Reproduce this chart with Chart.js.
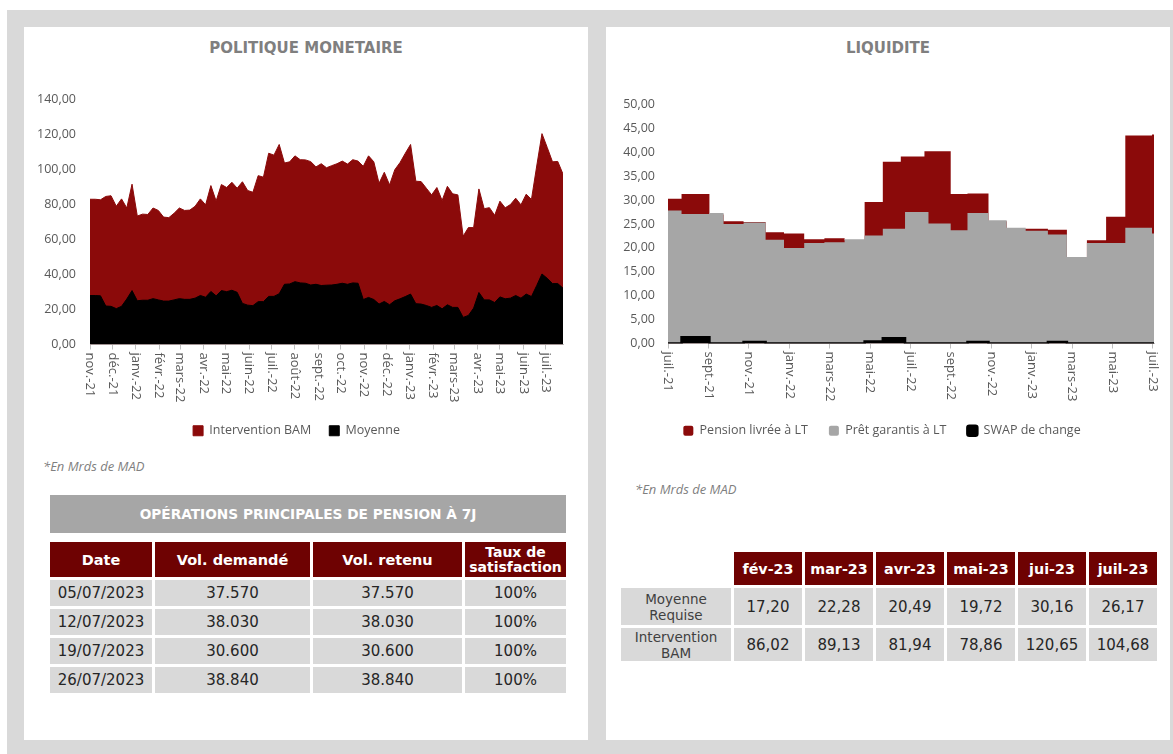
<!DOCTYPE html>
<html lang="fr">
<head>
<meta charset="utf-8">
<title>Politique monétaire - Liquidité</title>
<script src="https://cdn.jsdelivr.net/npm/chart.js@4/dist/chart.umd.min.js"></script>
<style>
  html, body { margin: 0; padding: 0; }
  body { width: 1173px; height: 754px; position: relative; overflow: hidden; background: #fff; font-family: "DejaVu Sans", sans-serif; }
  .fond { position: absolute; left: 7px; top: 10px; right: 0; bottom: 0; background: #d9d9d9; }
  .panneau { position: absolute; top: 27px; height: 713px; width: 564px; background: #fff; }
  .titre { position: absolute; top: 39px; width: 564px; text-align: center; font-weight: bold; font-size: 15px; color: #7f7f7f; }
  .note { position: absolute; font-style: italic; font-size: 13px; color: #7f7f7f; font-family: "Open Sans", sans-serif; }
  canvas { position: absolute; }
  .bandeau { position: absolute; left: 50px; top: 495px; width: 516px; height: 38px; line-height: 38px; background: #a6a6a6; color: #fff; font-weight: bold; font-size: 13.7px; text-align: center; }
  table { position: absolute; border-collapse: separate; border-spacing: 3px; }
  th, td { padding: 0; text-align: center; }
  th { background: #6e0202; color: #fff; font-weight: bold; }
  td { background: #d9d9d9; color: #262626; }
  #t1 { left: 47px; top: 539px; }
  #t1 th { height: 35px; font-size: 14.5px; }
  #t1 th.deux { font-size: 14px; line-height: 15px; }
  #t1 td { height: 26px; font-size: 15px; }
  #t2 { left: 618px; top: 549px; }
  #t2 th { height: 33px; width: 68px; font-size: 14.3px; }
  #t2 td { font-size: 15px; }
  #t2 td.lab { width: 110px; font-size: 13.5px; line-height: 16px; color: #404040; }
  #t2 td.vide { background: transparent; }
</style>
</head>
<body>
<div class="fond"></div>
<div class="panneau" style="left:24px"></div>
<div class="panneau" style="left:606px"></div>
<div class="titre" style="left:24px">POLITIQUE MONETAIRE</div>
<div class="titre" style="left:606px">LIQUIDITE</div>

<canvas id="cPM" width="550" height="369" style="left:30px;top:78px"></canvas>
<canvas id="cLIQ" width="560" height="363" style="left:610px;top:84px"></canvas>

<div class="note" style="left:43px;top:457px">*En Mrds de MAD</div>
<div class="note" style="left:635px;top:480px">*En Mrds de MAD</div>

<div class="bandeau">OPÉRATIONS PRINCIPALES DE PENSION À 7J</div>
<table id="t1">
  <tr><th style="width:102px">Date</th><th style="width:155px">Vol. demandé</th><th style="width:149px">Vol. retenu</th><th class="deux" style="width:101px">Taux de<br>satisfaction</th></tr>
  <tr><td>05/07/2023</td><td>37.570</td><td>37.570</td><td>100%</td></tr>
  <tr><td>12/07/2023</td><td>38.030</td><td>38.030</td><td>100%</td></tr>
  <tr><td>19/07/2023</td><td>30.600</td><td>30.600</td><td>100%</td></tr>
  <tr><td>26/07/2023</td><td>38.840</td><td>38.840</td><td>100%</td></tr>
</table>

<table id="t2">
  <tr><td class="vide"></td><th>fév-23</th><th>mar-23</th><th>avr-23</th><th>mai-23</th><th>jui-23</th><th>juil-23</th></tr>
  <tr style="height:37px"><td class="lab">Moyenne<br>Requise</td><td>17,20</td><td>22,28</td><td>20,49</td><td>19,72</td><td>30,16</td><td>26,17</td></tr>
  <tr style="height:33px"><td class="lab">Intervention<br>BAM</td><td>86,02</td><td>89,13</td><td>81,94</td><td>78,86</td><td>120,65</td><td>104,68</td></tr>
</table>

<script>
// --- Politique monétaire : une valeur par semaine, à partir du 01/11/2021
const interventionBAM = [
  83.0, 83.0, 82.7, 84.6, 85.0, 79.0, 83.2, 78.0, 91.6, 73.4,
  74.5, 74.3, 78.0, 76.6, 72.8, 72.5, 75.0, 78.0, 76.6, 76.8,
  79.0, 83.2, 79.8, 90.8, 82.0, 91.4, 89.7, 92.7, 89.3, 93.0,
  88.0, 87.0, 96.5, 95.6, 109.3, 108.2, 114.3, 103.7, 104.4, 107.8,
  105.6, 105.5, 104.5, 101.5, 103.3, 101.0, 102.2, 103.3, 104.8, 103.1,
  105.6, 104.8, 101.8, 107.8, 104.4, 92.1, 98.4, 91.2, 99.9, 104.0,
  109.3, 114.3, 93.3, 93.1, 89.3, 85.5, 89.7, 82.3, 90.4, 86.1,
  85.5, 61.9, 66.8, 66.8, 88.9, 77.6, 78.2, 73.8, 81.9, 78.1,
  80.0, 83.6, 79.8, 85.9, 82.9, 102.0, 120.5, 112.6, 104.4, 104.6,
  97.4
];
const moyenne = [
  28.0, 28.0, 27.8, 22.0, 21.8, 20.5, 21.8, 26.0, 30.8, 25.0,
  25.3, 25.3, 26.2, 25.5, 24.8, 24.8, 25.5, 26.2, 25.8, 25.8,
  26.5, 28.0, 27.0, 30.3, 27.8, 30.8, 30.2, 31.0, 29.8, 23.5,
  22.5, 22.2, 24.5, 24.5, 27.5, 27.5, 29.0, 34.4, 34.6, 35.9,
  35.2, 35.0, 34.0, 34.4, 33.7, 33.9, 34.0, 34.4, 35.0, 34.4,
  35.2, 35.0, 25.7, 26.9, 25.7, 23.1, 24.6, 22.7, 25.0, 26.1,
  27.4, 28.8, 23.3, 23.1, 22.3, 21.2, 22.3, 20.4, 22.7, 21.2,
  21.2, 15.5, 16.6, 20.8, 29.7, 25.5, 25.5, 24.0, 27.2, 26.1,
  26.5, 28.0, 26.5, 28.8, 27.4, 33.7, 40.3, 37.8, 34.8, 34.8,
  32.2
];
const moisPM = ['nov.-21', 'déc.-21', 'janv.-22', 'févr.-22', 'mars-22', 'avr.-22', 'mai-22', 'juin-22', 'juil.-22', 'août-22',
  'sept.-22', 'oct.-22', 'nov.-22', 'déc.-22', 'janv.-23', 'févr.-23', 'mars-23', 'avr.-23', 'mai-23', 'juin-23', 'juil.-23'];

// --- Liquidité : paliers, début de chaque palier en mois depuis juil.-21
const debutMois = [0, 0.67, 2.05, 2.75, 3.74, 4.83, 5.74, 6.74, 7.74, 8.74, 9.73, 10.63, 11.52, 11.73,
  12.69, 12.89, 13.99, 14.82, 15.86, 16.76, 17.7, 18.8, 19.74, 20.73, 21.68, 22.63, 23.95, 24.05];
const pensionLT = [30.3, 31.3, 27.0, 25.6, 25.4, 23.3, 23.0, 21.8, 22.0, 21.6, 29.6, 38.0, 39.1, 39.1,
  40.2, 40.2, 31.3, 31.4, 25.6, 24.0, 24.0, 23.8, 17.9, 21.6, 26.5, 43.5, 43.7, 43.7];
const pretGarantis = [27.8, 27.1, 27.3, 25.0, 25.3, 21.7, 20.0, 21.0, 21.2, 21.8, 22.6, 24.0, 24.0, 27.5,
  27.5, 25.1, 23.7, 27.3, 25.8, 24.2, 23.6, 22.8, 18.1, 21.0, 21.0, 24.2, 23.0, 23.0];
const swapChange = [0, 1.3, 0, 0, 0.3, 0, 0, 0, 0, 0, 0.4, 1.1, 1.1, 0,
  0, 0, 0, 0.3, 0, 0, 0, 0.3, 0, 0, 0, 0, 0, 0];
const moisLIQ = ['juil.-21', 'sept.-21', 'nov.-21', 'janv.-22', 'mars-22', 'mai-22', 'juil.-22',
  'sept.-22', 'nov.-22', 'janv.-23', 'mars-23', 'mai-23', 'juil.-23'];

const ROUGE = '#8b0a0a';
const GRIS = '#a6a6a6';

Chart.defaults.font.family = '"Open Sans", sans-serif';
Chart.defaults.font.size = 12.5;
Chart.defaults.color = '#595959';
Chart.defaults.animation = false;

// semaines écoulées depuis le 01/11/2021
function semaine(annee, mois) {
  return (Date.UTC(annee, mois, 1) - Date.UTC(2021, 10, 1)) / 6048e5;
}

// étiquettes de l'axe x tournées de 90° (lecture de haut en bas)
const etiquettesX = {
  id: 'etiquettesX',
  afterDraw(chart, args, opts) {
    const sx = chart.scales.x;
    const ctx = chart.ctx;
    ctx.save();
    ctx.font = '13px "Open Sans"';
    ctx.fillStyle = '#595959';
    ctx.textAlign = 'left';
    ctx.textBaseline = 'middle';
    sx.ticks.forEach((t, i) => {
      ctx.save();
      ctx.translate(sx.getPixelForValue(t.value), sx.top + 8);
      ctx.rotate(Math.PI / 2);
      ctx.fillText(opts.labels[i], 0, 0);
      ctx.restore();
    });
    ctx.restore();
  }
};

const virgule = v => v.toFixed(2).replace('.', ',');

new Chart(document.getElementById('cPM'), {
  type: 'line',
  data: {
    datasets: [
      { label: 'Intervention BAM', data: interventionBAM.map((y, i) => ({ x: i, y })),
        backgroundColor: ROUGE, borderColor: ROUGE, borderWidth: 1, fill: 'origin', pointRadius: 0, order: 2 },
      { label: 'Moyenne', data: moyenne.map((y, i) => ({ x: i, y })),
        backgroundColor: '#000', borderColor: '#000', borderWidth: 1, fill: 'origin', pointRadius: 0, order: 1 }
    ]
  },
  options: {
    responsive: false,
    layout: { padding: { top: 0, right: 17, left: 0, bottom: 0 } },
    scales: {
      x: {
        type: 'linear', min: 0, max: interventionBAM.length - 1,
        afterBuildTicks: s => { s.ticks = moisPM.map((_, i) => ({ value: semaine(2021, 10 + i) })); },
        afterFit: s => { s.height = 62; },
        ticks: { display: false },
        grid: { drawOnChartArea: false, tickLength: 5, color: '#bfbfbf' },
        border: { color: '#bfbfbf' }
      },
      y: {
        min: 0, max: 140,
        afterFit: s => { s.width = 60; },
        ticks: { stepSize: 20, padding: 14, font: { size: 12.5 }, callback: virgule },
        grid: { display: false, drawTicks: false },
        border: { display: false }
      }
    },
    plugins: {
      legend: { position: 'bottom', labels: { boxWidth: 10, boxHeight: 10, padding: 18, sort: (a, b) => a.datasetIndex - b.datasetIndex } },
      tooltip: { enabled: false },
      etiquettesX: { labels: moisPM }
    }
  },
  plugins: [etiquettesX]
});

const paliers = vals => debutMois.map((x, i) => ({ x, y: vals[i] }));

new Chart(document.getElementById('cLIQ'), {
  type: 'line',
  data: {
    datasets: [
      { label: 'Pension livrée à LT', data: paliers(pensionLT), stepped: true,
        backgroundColor: ROUGE, borderColor: ROUGE, borderWidth: 0, fill: 'origin', pointRadius: 0, order: 3 },
      { label: 'Prêt garantis à LT', data: paliers(pretGarantis), stepped: true,
        backgroundColor: GRIS, borderColor: GRIS, borderWidth: 0, fill: 'origin', pointRadius: 0, order: 2 },
      { label: 'SWAP de change', data: paliers(swapChange), stepped: true,
        backgroundColor: '#000', borderColor: '#000', borderWidth: 2.5, fill: 'origin', pointRadius: 0, order: 1 }
    ]
  },
  options: {
    responsive: false,
    layout: { padding: { top: 0, right: 16, left: 0, bottom: 0 } },
    scales: {
      x: {
        type: 'linear', min: 0, max: debutMois[debutMois.length - 1],
        afterBuildTicks: s => { s.ticks = moisLIQ.map((_, i) => ({ value: i * 2 })); },
        afterFit: s => { s.height = 60; },
        ticks: { display: false },
        grid: { drawOnChartArea: false, tickLength: 5, color: '#bfbfbf' },
        border: { color: '#bfbfbf' }
      },
      y: {
        min: 0, max: 50,
        afterFit: s => { s.width = 58; },
        ticks: { stepSize: 5, padding: 13, font: { size: 12.5 }, callback: virgule },
        grid: { display: false, drawTicks: false },
        border: { display: false }
      }
    },
    plugins: {
      legend: { position: 'bottom', labels: { boxWidth: 10, boxHeight: 10, padding: 21, useBorderRadius: true, borderRadius: 2,
        sort: (a, b) => a.datasetIndex - b.datasetIndex } },
      tooltip: { enabled: false },
      etiquettesX: { labels: moisLIQ }
    }
  },
  plugins: [etiquettesX]
});
</script>
</body>
</html>
